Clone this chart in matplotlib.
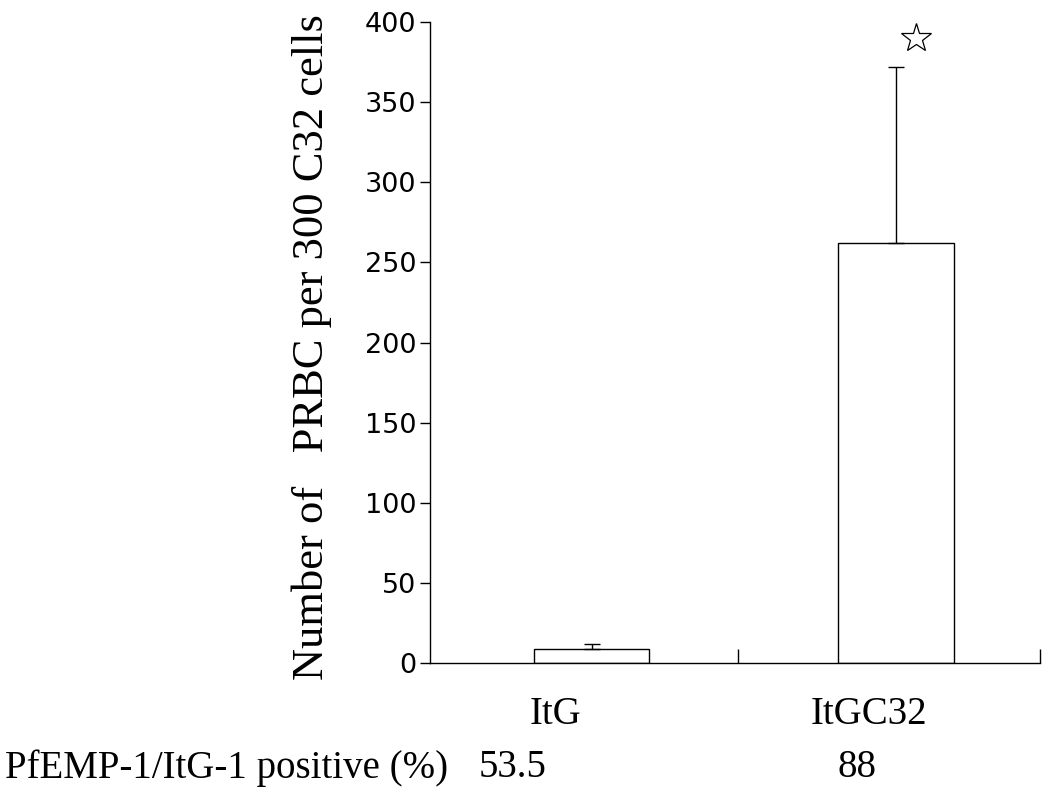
import matplotlib.pyplot as plt
import numpy as np

# binding assay: PRBC bound per 300 C32 cells
strains = ['ItG', 'ItGC32']
prbc_bound = [8.5, 262]
prbc_err = [3.5, 110]
positive_pct = ['53.5', '88']

serif = ['Liberation Serif', 'DejaVu Serif']

fig = plt.figure(figsize=(10.49, 7.91), dpi=100)
ax = fig.add_axes([0.41, 0.162, 0.581, 0.81])

x = np.arange(len(strains))
ax.bar(x, prbc_bound, width=0.38, color='white', edgecolor='black', linewidth=1.0)
# one-sided (upper) error bars
ax.errorbar(x, prbc_bound, yerr=[np.zeros(len(x)), prbc_err], fmt='none',
            ecolor='black', elinewidth=1.0, capsize=6, capthick=1.0)

# significance mark
ax.plot(x[1] + 0.065, 390, marker='*', markersize=22, markerfacecolor='white',
        markeredgecolor='black', markeredgewidth=0.9, clip_on=False)

ax.set_xlim(-0.53, 1.47)
ax.set_ylim(0, 400)
ax.set_yticks(np.arange(0, 401, 50))
ax.set_xticks([0.48, 1.47])
ax.set_xticklabels([])
ax.tick_params(axis='x', direction='in', length=10, width=1.0)
ax.tick_params(axis='y', direction='out', length=7, width=1.0, labelsize=19.5, pad=3)
for lab in ax.get_yticklabels():
    lab.set_family(['DejaVu Sans'])

ax.spines['top'].set_visible(False)
ax.spines['right'].set_visible(False)
ax.spines['left'].set_linewidth(1.0)
ax.spines['bottom'].set_linewidth(1.0)

fig.text(312 / 1049, 1 - 347 / 791, 'Number of   PRBC per 300 C32 cells', rotation=90,
         ha='center', va='center', family=serif, fontsize=32)

# category names and percentage row under the axis
label_shift = [-0.12, -0.09]
pct_shift = [-0.26, -0.13]
trans = ax.get_xaxis_transform()
for i, name in enumerate(strains):
    ax.text(x[i] + label_shift[i], -0.08, name, transform=trans, ha='center', va='center',
            family=serif, fontsize=28)
    ax.text(x[i] + pct_shift[i], -0.164, positive_pct[i], transform=trans, ha='center',
            va='center', family=serif, fontsize=28)
fig.text(0.005, (791 - 768) / 791, 'PfEMP-1/ItG-1 positive (%)', ha='left', va='center',
         family=serif, fontsize=28)

fig.savefig('out.png', dpi=100)
